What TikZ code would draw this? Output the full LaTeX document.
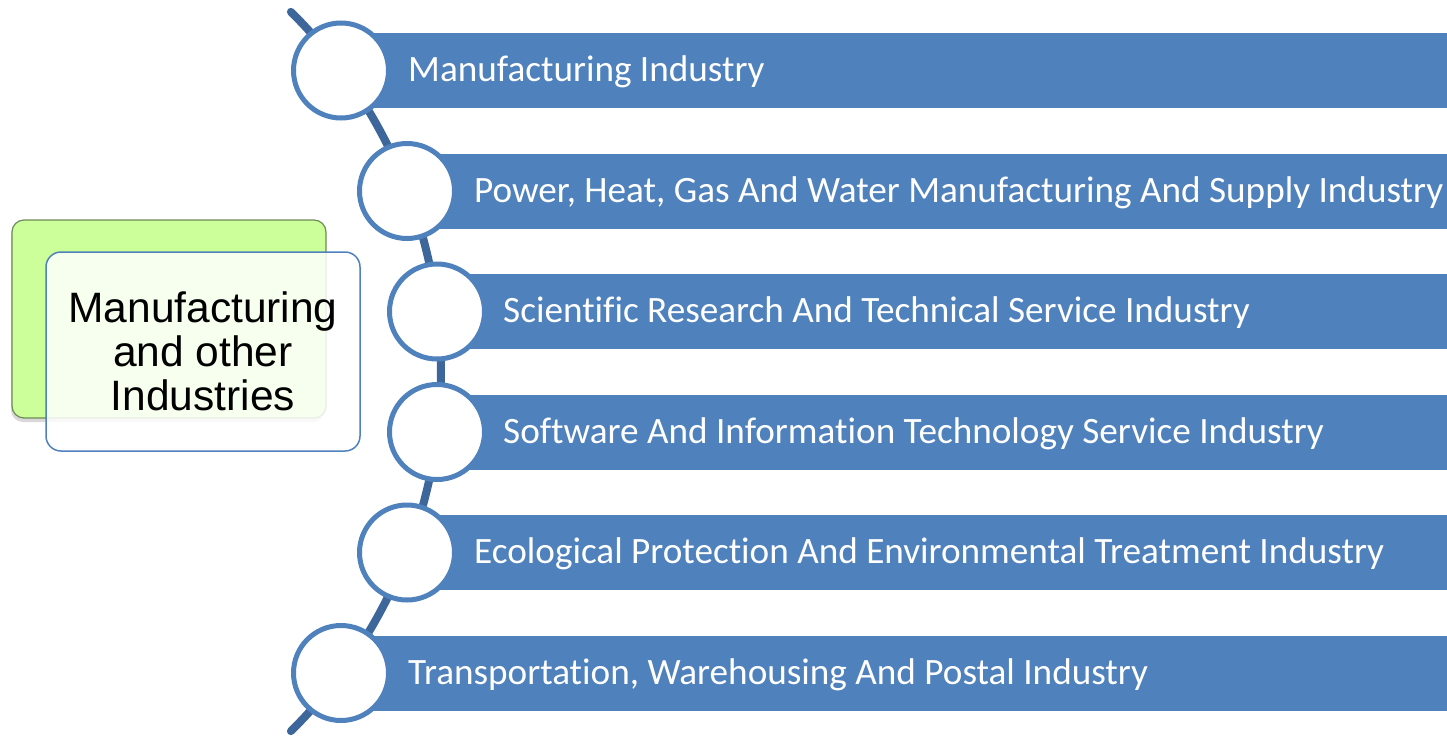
\documentclass[tikz,border=0pt]{standalone}
\usepackage{fontspec}
\setmainfont{Carlito}[Ligatures={NoCommon}]
\newfontfamily\headfont{Liberation Sans}
\usetikzlibrary{shadows}
\definecolor{barblue}{HTML}{4F81BD}
\definecolor{spine}{HTML}{3D679B}
\definecolor{leafgreen}{HTML}{CCFF99}
\definecolor{leafedge}{HTML}{6E8A58}
\begin{document}
\begin{tikzpicture}[x=1pt,y=-1pt,
  bar/.style={fill=barblue, draw=none, inner sep=0pt, minimum height=75pt, anchor=west},
  barlabel/.style={text=white, anchor=west, inner sep=0pt,
    font=\fontsize{37.2}{44}\selectfont},
  ring/.style={circle, draw=barblue, line width=5pt, fill=white,
    inner sep=0pt, minimum size=95pt},
  backcard/.style={draw=leafedge, line width=1.2pt, fill=leafgreen,
    rounded corners=12pt,
    drop shadow={shadow xshift=-1pt, shadow yshift=-4pt, opacity=0.3, fill=black!50}},
  frontcard/.style={draw=barblue, line width=1.5pt, fill=white, fill opacity=0.85,
    rounded corners=15pt}]
\useasboundingbox (0,0) rectangle (1447,736);

% title cards
\path[backcard] (12,220) rectangle (326,418);
\path[frontcard] (46,252) rectangle (360,451);
\node[align=center, inner sep=0pt, font=\headfont\fontsize{42.5}{44}\selectfont]
  (title) at (203,351) {Manufacturing\\and other\\Industries};

% curved spine carrying the rings
\draw[spine, line width=8pt, line cap=round]
  (-65,371.5) ++(45.3:506pt) arc[start angle=45.3, end angle=-45.3, radius=506pt];

% bars
\node[bar, minimum width=1106pt] (bar1) at (341,70.5) {};
\node[bar, minimum width=1040pt] (bar2) at (407,191) {};
\node[bar, minimum width=1010pt] (bar3) at (437,311.5) {};
\node[bar, minimum width=1010pt] (bar4) at (437,432) {};
\node[bar, minimum width=1040pt] (bar5) at (407,552.5) {};
\node[bar, minimum width=1106pt] (bar6) at (341,673) {};

% labels
\node[barlabel] (lab1) at (408,72) {Manufacturing Industry};
\node[barlabel] (lab2) at (474,192.5) {Power, Heat, Gas And Water Manufacturing And Supply Industry};
\node[barlabel] (lab3) at (503,313) {Scientific Research And Technical Service Industry};
\node[barlabel] (lab4) at (503,433.5) {Software And Information Technology Service Industry};
\node[barlabel] (lab5) at (474,554) {Ecological Protection And Environmental Treatment Industry};
\node[barlabel] (lab6) at (408,674.5) {Transportation, Warehousing And Postal Industry};

% rings
\node[ring] (ring1) at (341,70.5) {};
\node[ring] (ring2) at (407,191) {};
\node[ring] (ring3) at (437,311.5) {};
\node[ring] (ring4) at (437,432) {};
\node[ring] (ring5) at (407,552.5) {};
\node[ring] (ring6) at (341,673) {};
\end{tikzpicture}
\end{document}
